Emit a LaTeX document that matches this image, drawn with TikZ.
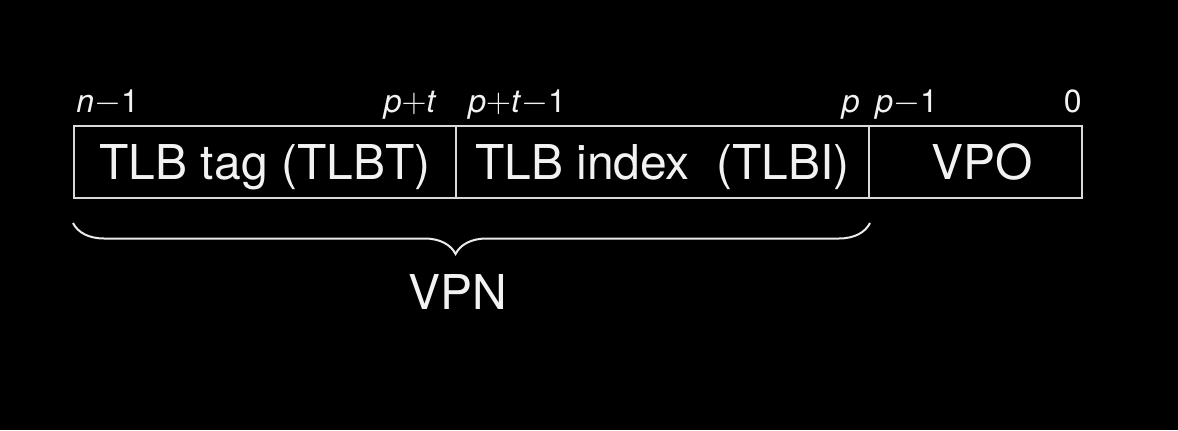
\documentclass[tikz,border=0pt]{standalone}
\usepackage{amsmath}
\usepackage{fontspec}
\setmainfont{TeX Gyre Heros}
\usetikzlibrary{decorations.pathreplacing}
\newcommand{\fieldfont}{\fontsize{24}{28}\selectfont}
\newcommand{\bitfont}{\fontsize{16}{19}\selectfont}
\newcommand{\mn}{{$-$}}
\newcommand{\pl}{{$+$}}

\begin{document}
\begin{tikzpicture}[x=1pt, y=1pt,
    field/.style={draw=white!85!black, line width=1pt, minimum height=36pt,
        inner sep=0pt, text height=17.2pt, text depth=0pt,
        text=white!95!black, font=\fieldfont},
    bit/.style={text=white!95!black, inner sep=0pt, font=\bitfont}]
    % Background
    \fill[black] (0,0) rectangle (589,215);

    % The fields
    \node[field, minimum width=191pt] (tag) at (132.5,134) {TLB tag (TLBT)};
    \node[field, minimum width=206.5pt] (index) at (331.25,134) {TLB index\ \ (TLBI)};
    \node[field, minimum width=106.5pt] (vpo) at (487.75,134) {\hspace{7pt}VPO};

    % Bit positions
    \node[bit, anchor=base west] (nmone) at (38,159) {\textit{n}\mn 1};
    \node[bit, anchor=base east] (pt) at (218.5,159) {\textit{p}\pl\textit{t}};
    \node[bit, anchor=base west] (ptmone) at (234,159) {\textit{p}\pl\textit{t}\mn 1};
    \node[bit, anchor=base east] (p) at (430,159) {\textit{p}};
    \node[bit, anchor=base west] (pmone) at (437.5,159) {\textit{p}\mn 1};
    \node[bit, anchor=base east] (zero) at (541,159) {0};

    % Brace and VPN
    \draw[white!92!black, line width=1pt,
        decorate, decoration={brace, mirror, amplitude=15.5pt, aspect=0.48}]
        ([yshift=-12pt]tag.south west) -- ([yshift=-12pt]index.south east);
    \node[text=white!95!black, font=\fieldfont, anchor=base] (vpn) at (229,60.5) {VPN};
\end{tikzpicture}
\end{document}
